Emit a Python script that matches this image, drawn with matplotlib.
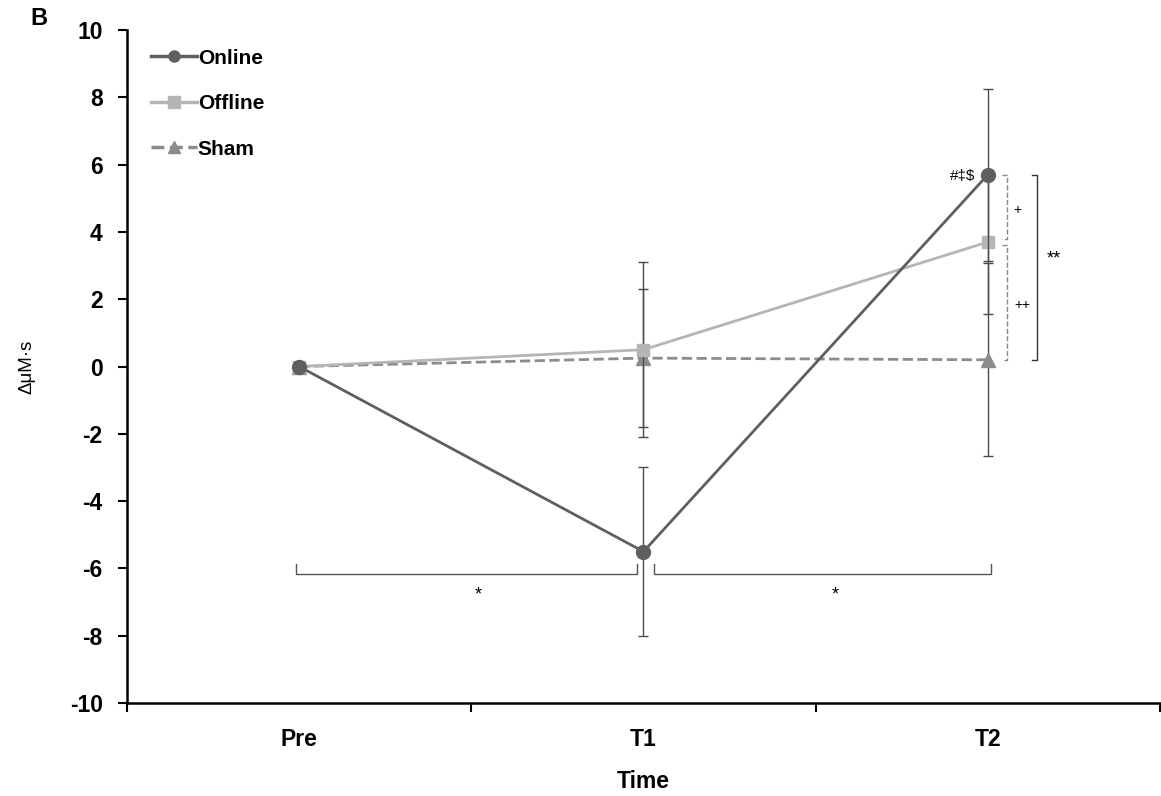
import matplotlib
matplotlib.use('Agg')
import matplotlib.pyplot as plt
from matplotlib.lines import Line2D
import numpy as np

plt.rcParams['font.family'] = ['Liberation Sans', 'DejaVu Sans']
plt.rcParams['axes.unicode_minus'] = False

# data
times = ['Pre', 'T1', 'T2']
online = [0.0, -5.5, 5.7]
online_sd = [0.0, 2.5, 2.55]
offline = [0.0, 0.5, 3.7]
offline_sd = [0.0, 2.6, 2.15]
sham = [0.0, 0.25, 0.2]
sham_sd = [0.0, 2.05, 2.87]

c_on, c_off, c_sh = '#5f5f5f', '#b5b5b5', '#8c8c8c'

x = np.arange(len(times)) + 0.5

fig = plt.figure(figsize=(11.61, 7.96), dpi=100)
ax = fig.add_axes([0.1094, 0.1168, 0.8897, 0.8455])

err_kw = dict(ecolor='#4a4a4a', elinewidth=1, capsize=3.5, capthick=1)
ax.errorbar(x, sham, yerr=sham_sd, color=c_sh, ls='--', lw=2, marker='^',
            ms=10, zorder=3, **err_kw)
ax.errorbar(x, offline, yerr=offline_sd, color=c_off, lw=2, marker='s',
            ms=9, zorder=4, **err_kw)
ax.errorbar(x, online, yerr=online_sd, color=c_on, lw=2, marker='o',
            ms=10, zorder=5, **err_kw)

ax.set_xlim(0, 3)
ax.set_ylim(-10, 10)
ax.set_yticks(np.arange(-10, 11, 2))
ax.set_xticks([0, 1, 2, 3])
ax.set_xticklabels([])
ax.set_xticks(x, minor=True)
ax.set_xticklabels(times, minor=True)
ax.tick_params(axis='x', which='major', direction='out', length=6.5, width=1.5)
ax.tick_params(axis='x', which='minor', length=0, pad=18, labelsize=16.5)
ax.tick_params(axis='y', direction='out', length=6.5, width=1.5, pad=11, labelsize=16.5)
for lab in ax.get_xticklabels(minor=True) + ax.get_yticklabels():
    lab.set_fontweight('bold')

for s in ['top', 'right']:
    ax.spines[s].set_visible(False)
for s in ['left', 'bottom']:
    ax.spines[s].set_linewidth(1.8)

ax.set_xlabel('Time', fontsize=16.5, fontweight='bold', labelpad=14)
ax.set_ylabel('ΔμM·s', fontsize=13.5)
ax.yaxis.set_label_coords(-0.089, 0.5)

handles = [
    Line2D([], [], color=c_on, lw=2.5, marker='o', ms=8),
    Line2D([], [], color=c_off, lw=2.5, marker='s', ms=8),
    Line2D([], [], color=c_sh, lw=2.5, ls='--', marker='^', ms=8),
]
ax.legend(handles, ['Online', 'Offline', 'Sham'],
          loc='upper left', bbox_to_anchor=(0.005, 1.0), frameon=False,
          prop={'size': 15, 'weight': 'bold'}, labelspacing=1.27,
          handlelength=2.2, handletextpad=0.05)

# significance brackets (bottom)
bc = '#555555'
yb, yt = -6.17, -5.88
for x0, x1, xm in [(x[0] - 0.01, x[1] - 0.02, 1.02), (x[1] + 0.03, x[2] + 0.01, 2.056)]:
    ax.plot([x0, x0, x1, x1], [yt, yb, yb, yt], color=bc, lw=1)
    ax.text(xm, -6.8, '*', ha='center', va='center', fontsize=13)

# brackets at T2
xd = x[2] + 0.056
ax.plot([xd - 0.015, xd, xd, xd - 0.015], [online[2], online[2], offline[2] + 0.1, offline[2] + 0.1],
        color='#888888', lw=1, ls='--')
ax.plot([xd - 0.015, xd, xd, xd - 0.015], [offline[2] - 0.1, offline[2] - 0.1, sham[2], sham[2]],
        color='#888888', lw=1, ls='--')
ax.text(xd + 0.03, 4.66, '+', ha='center', va='center', fontsize=10)
ax.text(xd + 0.045, 1.84, '++', ha='center', va='center', fontsize=10)
xs = x[2] + 0.143
ax.plot([xs - 0.015, xs, xs, xs - 0.015], [online[2], online[2], sham[2], sham[2]],
        color='#333333', lw=1)
ax.text(xs + 0.048, 3.2, '**', ha='center', va='center', fontsize=13)
ax.text(x[2] - 0.037, online[2] - 0.05, '#‡$', ha='right', va='center', fontsize=11)

fig.text(0.026, 0.977, 'B', fontsize=17, fontweight='bold', ha='left', va='center')

fig.savefig('out.png', dpi=100)
